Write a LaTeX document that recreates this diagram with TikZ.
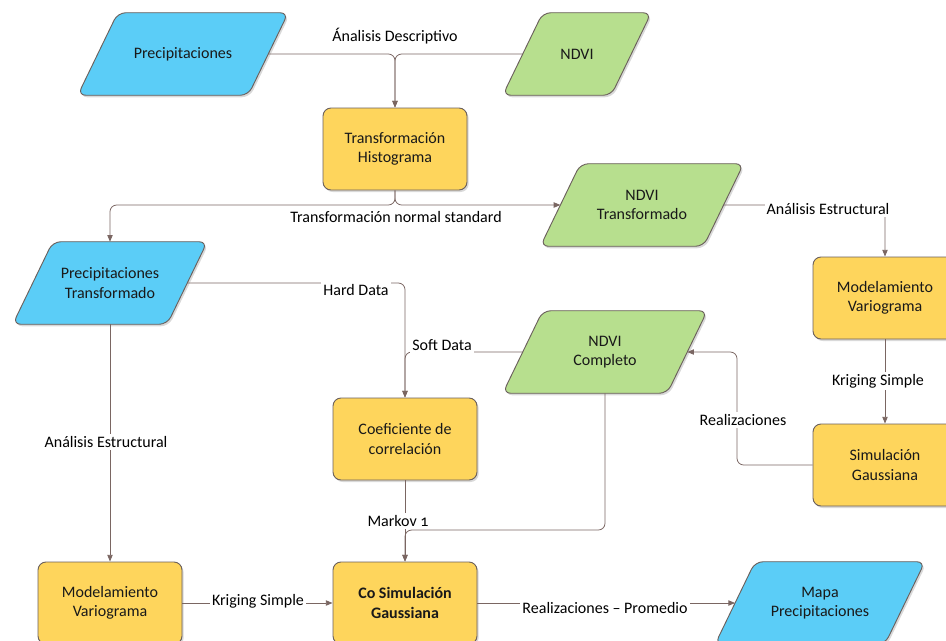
\documentclass[tikz,border=0pt]{standalone}
\usepackage{fontspec}
\setmainfont{Carlito}
\usepackage{tikz}
\usetikzlibrary{positioning,arrows.meta,shadows,backgrounds}

\definecolor{cblue}{HTML}{5BCDF7}
\definecolor{cgreen}{HTML}{B7DF8E}
\definecolor{cyellow}{HTML}{FED55C}
\definecolor{cline}{HTML}{7A6662}
\definecolor{cborder}{HTML}{6B605C}

\begin{document}
\begin{tikzpicture}[
    x=0.75pt, y=-0.75pt,
    font=\fontsize{12}{14.5}\selectfont,
    shade/.style={drop shadow={shadow xshift=1.2pt, shadow yshift=-1.5pt, opacity=.3}},
    proc/.style={draw=cborder, line width=0.7pt, rounded corners=6pt, fill=cyellow, shade,
                 minimum width=108pt, minimum height=61.5pt, align=center, inner sep=2pt,
                 text=black!90},
    data/.style={minimum height=61.5pt, align=center, inner sep=2pt, text=black!90},
    pgram/.style={draw=cborder, line width=0.7pt, rounded corners=6pt, shade},
    lbl/.style={fill=white, inner sep=1.5pt},
    arr/.style={-{Triangle[length=5pt, width=4pt]}, cline, line width=0.6pt, rounded corners=5pt}
  ]
    \clip (0,0) rectangle (946,640);

    % data sets (parallelograms are drawn on the background layer)
    \node[data, minimum width=127.5pt] (prec) at (183,54) {Precipitaciones};
    \node[data, minimum width=81pt] (ndvi) at (577,54) {NDVI};
    \node[data, minimum width=122pt] (ntrans) at (642,205) {NDVI\\Transformado};
    \node[data, minimum width=115.5pt] (ptrans) at (110,283) {Precipitaciones\\Transformado};
    \node[data, minimum width=123pt] (ncomp) at (605,352) {NDVI\\Completo};
    \node[data, minimum width=127pt] (mapa) at (820,603) {Mapa\\Precipitaciones};

    \begin{pgfonlayer}{background}
      \foreach \n/\c in {prec/cblue, ndvi/cgreen, ntrans/cgreen, ptrans/cblue, ncomp/cgreen, mapa/cblue}
        \draw[pgram, fill=\c] ([xshift=-15pt]\n.south west) -- ([xshift=15pt]\n.north west)
          -- ([xshift=15pt]\n.north east) -- ([xshift=-15pt]\n.south east) -- cycle;
    \end{pgfonlayer}

    % processes
    \node[proc] (thist) at (395,149) {Transformación\\Histograma};
    \node[proc] (modr) at (885,298) {Modelamiento\\Variograma};
    \node[proc] (coef) at (405,439) {Coeficiente de\\correlación};
    \node[proc] (simr) at (885,465) {Simulación\\Gaussiana};
    \node[proc] (modl) at (110,603) {Modelamiento\\Variograma};
    \node[proc, font=\fontsize{12}{14.5}\selectfont\bfseries] (cosim) at (405,603) {Co Simulación\\Gaussiana};

    % connectors
    \coordinate (split) at (395,205);
    \coordinate (back) at (737,352);
    \coordinate (join) at (405,530);
    \draw[arr] (prec.east) -| (thist.north);
    \draw[arr] (ndvi.west) -| (thist.north);
    \draw[arr] (thist.south) -- (split) -| (ptrans.north);
    \draw[arr] (thist.south) -- (split) -- (ntrans.west);
    \draw[arr] (ntrans.east) -| (modr.north);
    \draw[arr] (simr.west) -| (back) -- (ncomp.east);
    \draw[arr] (ptrans.east) -| (coef.north);
    \draw[arr] (ncomp.west) -| (coef.north);
    \draw[arr] (ncomp.south) |- (join) -- (cosim.north);
    \foreach \a/\b in {modr/simr, coef/cosim, ptrans/modl, modl/cosim, cosim/mapa}
      \draw[arr] (\a) -- (\b);

    % labels
    \node (ldesc) at (395,36) {Ánalisis Descriptivo};
    \node (lnorm) at (396,217) {Transformación normal standard};
    \node[lbl] (lestr) at (828,209) {Análisis Estructural};
    \node[lbl] (lkrig) at (878,381) {Kriging Simple};
    \node[lbl] (lreal) at (743,420) {Realizaciones};
    \node[lbl] (lhard) at (356,290) {Hard Data};
    \node[lbl] (lsoft) at (442,345) {Soft Data};
    \node[lbl] (lmark) at (398,521) {Markov {\addfontfeatures{Numbers=OldStyle}1}};
    \node[lbl] (lestl) at (106,442) {Análisis Estructural};
    \node[lbl] (lkrigl) at (258,601) {Kriging Simple};
    \node[lbl] (lprom) at (605,608) {Realizaciones -- Promedio};
\end{tikzpicture}
\end{document}
